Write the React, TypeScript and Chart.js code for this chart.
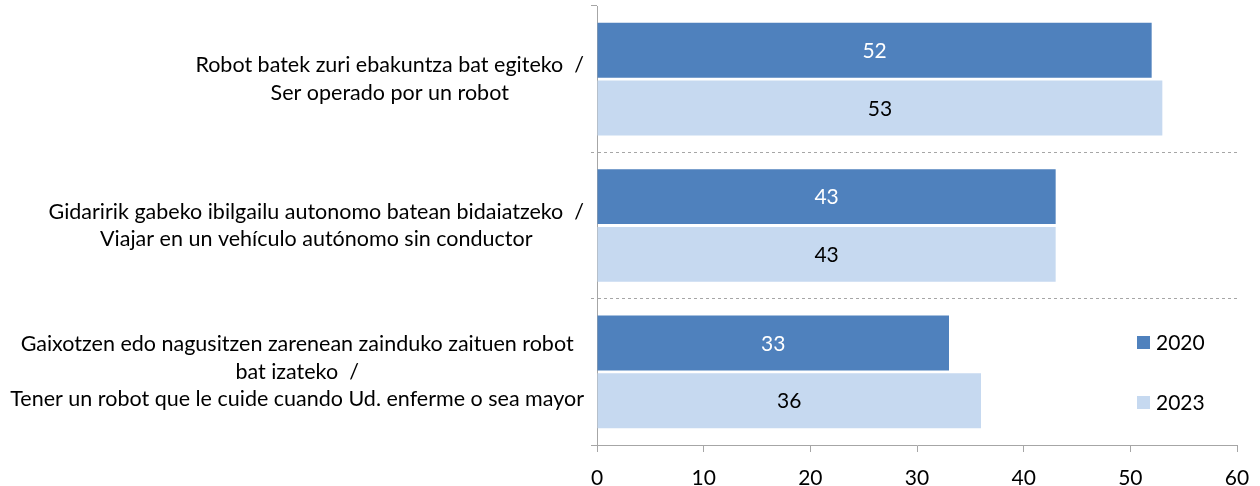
import React, { useEffect, useRef } from "react";
import { Chart, registerables } from "chart.js";

Chart.register(...registerables);

const categories: string[][] = [
  ["Robot batek zuri ebakuntza bat egiteko  /", "Ser operado por un robot"],
  ["Gidaririk gabeko ibilgailu autonomo batean bidaiatzeko  /", "Viajar en un vehículo autónomo sin conductor"],
  ["Gaixotzen edo nagusitzen zarenean zainduko zaituen robot", "bat izateko  /", "Tener un robot que le cuide cuando Ud. enferme o sea mayor"],
];
const seriesNames = ["2020", "2023"];
const values2020 = [52, 43, 33];
const values2023 = [53, 43, 36];
const xTicks = [0, 10, 20, 30, 40, 50, 60];

const FONT = "Lato, 'Open Sans', sans-serif";
const FONT_SIZE = 21;
const LABEL_FONT_SIZE = 21.5;
const COLORS = ["#4F81BD", "#C6D9F0"];
const LABEL_COLORS = ["#FFFFFF", "#000000"];

const overlayPlugin = {
  id: "overlay",
  afterDraw(chart: any) {
    const { ctx, chartArea } = chart;
    const yScale = chart.scales.y;
    ctx.save();
    ctx.font = `${LABEL_FONT_SIZE}px ${FONT}`;
    ctx.fillStyle = "#000";
    ctx.textBaseline = "middle";
    ctx.textAlign = "center";
    // category labels: block right-aligned, lines centered within block
    const lineH = 27.5;
    categories.forEach((lines, i) => {
      const cy = yScale.getPixelForValue(i);
      const maxW = Math.max(...lines.map((l) => ctx.measureText(l).width));
      const cx = chartArea.left - 13 - maxW / 2;
      const y0 = cy - ((lines.length - 1) * lineH) / 2;
      lines.forEach((l, k) => ctx.fillText(l, cx, y0 + k * lineH));
    });
    ctx.font = `${FONT_SIZE}px ${FONT}`;
    // value labels
    chart.data.datasets.forEach((ds: any, di: number) => {
      const meta = chart.getDatasetMeta(di);
      ctx.fillStyle = LABEL_COLORS[di];
      meta.data.forEach((el: any, j: number) => {
        ctx.fillText(String(ds.data[j]), (el.x + el.base) / 2, el.y + 1);
      });
    });
    // legend
    ctx.textAlign = "left";
    const lx = chartArea.right - 100;
    const lys = [chartArea.top + 336, chartArea.top + 396];
    seriesNames.forEach((name, i) => {
      ctx.fillStyle = COLORS[i];
      ctx.fillRect(lx, lys[i] - 6, 13, 13);
      ctx.fillStyle = "#000";
      ctx.fillText(name, lx + 19, lys[i] + 1);
    });
    ctx.restore();
  },
};

export default function App() {
  const ref = useRef<HTMLCanvasElement | null>(null);
  useEffect(() => {
    if (!ref.current) return;
    const chart = new Chart(ref.current, {
      type: "bar",
      data: {
        labels: categories.map((c) => c.join(" ")),
        datasets: [
          { label: seriesNames[0], data: values2020, backgroundColor: COLORS[0], categoryPercentage: 0.79, barPercentage: 0.95 },
          { label: seriesNames[1], data: values2023, backgroundColor: COLORS[1], categoryPercentage: 0.79, barPercentage: 0.95 },
        ],
      },
      options: {
        indexAxis: "y",
        responsive: false,
        animation: false,
        layout: { padding: { top: 6, right: 23, left: 0, bottom: 0 } },
        plugins: { legend: { display: false }, tooltip: { enabled: false } },
        scales: {
          x: {
            min: xTicks[0],
            max: xTicks[xTicks.length - 1],
            afterBuildTicks: (scale: any) => {
              scale.ticks = xTicks.map((v) => ({ value: v }));
            },
            grid: { drawOnChartArea: false, drawTicks: true, tickLength: 7, tickColor: "#A6A6A6" },
            border: { display: true, color: "#A6A6A6", width: 1 },
            ticks: { color: "#000", font: { family: FONT, size: FONT_SIZE }, padding: 14 },
            afterFit: (scale: any) => {
              scale.height = 41;
              scale.paddingLeft = 0;
              scale.paddingRight = 0;
            },
          },
          y: {
            grid: {
              offset: true,
              drawOnChartArea: true,
              drawTicks: true,
              tickLength: 6,
              color: (c: any) => (c.index === 1 || c.index === 2 ? "#A6A6A6" : "rgba(0,0,0,0)"),
              tickColor: "#A6A6A6",
              tickBorderDash: (c: any) => (c.index === 1 || c.index === 2 ? [3, 3] : []),
            },
            border: { display: true, color: "#A6A6A6", width: 1, dash: [3, 3] },
            ticks: { display: false },
            afterFit: (scale: any) => {
              scale.width = 597;
            },
          },
        },
      },
      plugins: [overlayPlugin],
    } as any);
    return () => chart.destroy();
  }, []);
  return (
    <div style={{ position: "fixed", left: 0, top: 0, width: 1260, height: 486, background: "#fff" }}>
      <canvas ref={ref} width={1260} height={486} style={{ width: 1260, height: 486, display: "block" }} />
    </div>
  );
}
